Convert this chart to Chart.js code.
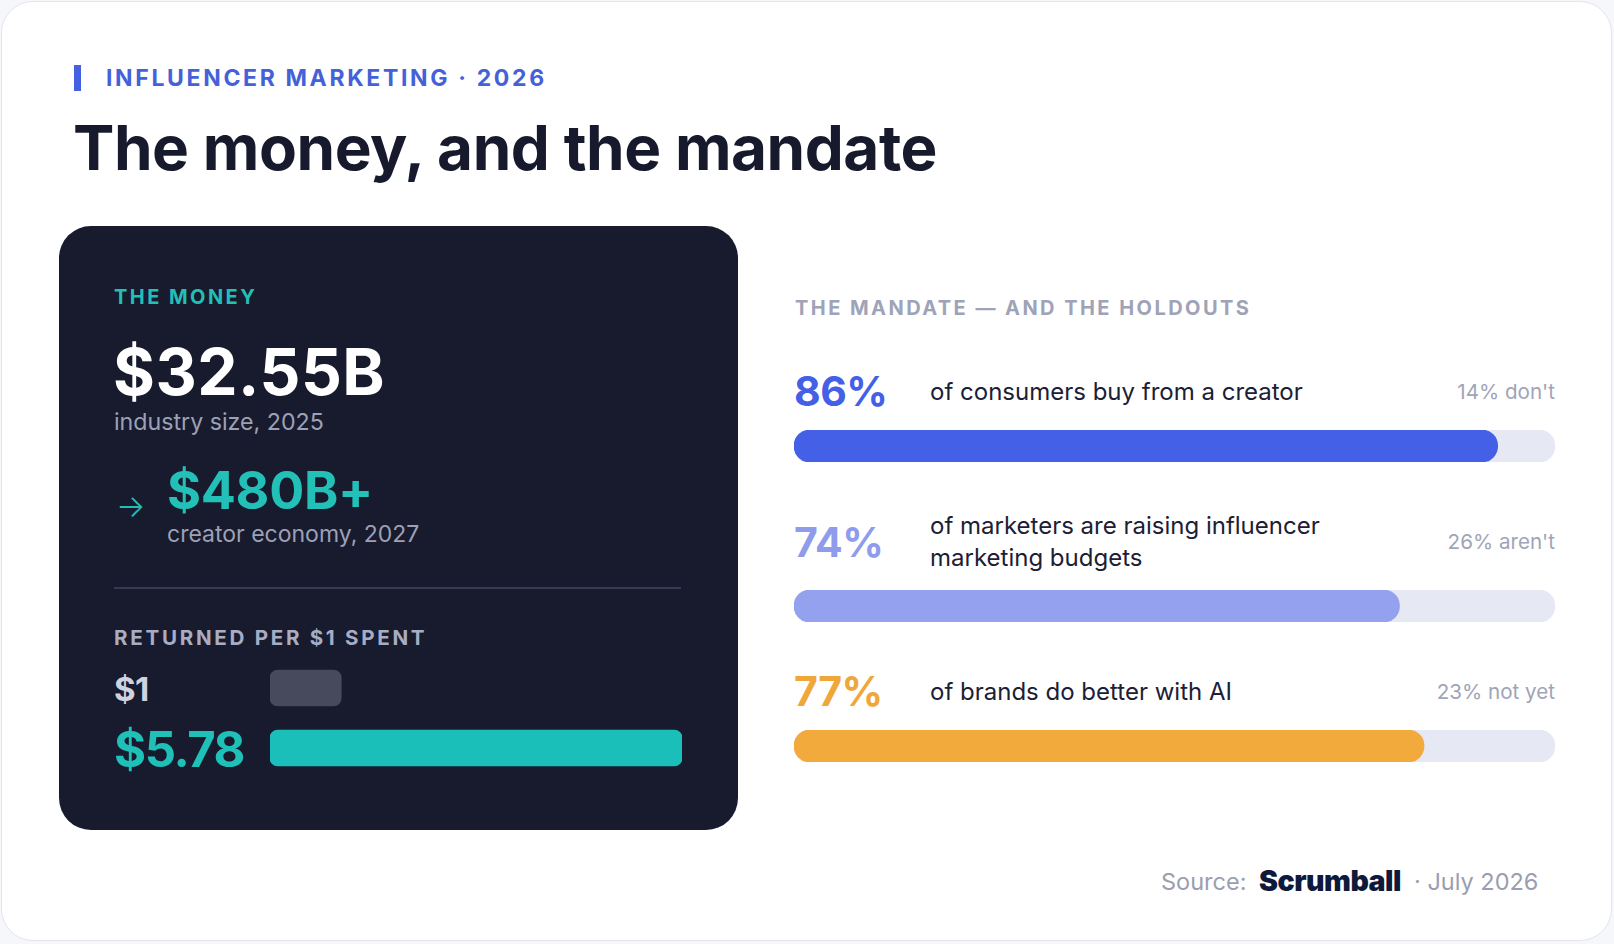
<!DOCTYPE html>
<html>
<head>
<meta charset="utf-8">
<script src="https://cdn.jsdelivr.net/npm/chart.js@4.4.1/dist/chart.umd.min.js"></script>
<style>
  html, body { margin:0; padding:0; }
  body { width:1614px; height:944px; background:#f6f7fa; position:relative; overflow:hidden; font-family: Inter, "Noto Sans", sans-serif; }
  .card { position:absolute; left:1px; top:1px; width:1609px; height:938px; background:#fff; border:1.5px solid #e3e5ee; border-radius:32px; }
  .t { position:absolute; white-space:nowrap; line-height:1; }
  .panel { position:absolute; left:59px; top:226px; width:679px; height:604px; background:#171b2d; border-radius:32px; }
  .cv { position:absolute; }
</style>
</head>
<body>
<div class="card"></div>
<div style="position:absolute;left:74px;top:65px;width:7px;height:26px;background:#4561e3;"></div>
<div class="t" style="left:106px;top:66.7px;font-size:23px;font-weight:700;letter-spacing:2.65px;color:#4561d9;">INFLUENCER MARKETING · 2026</div>
<div class="t" style="left:73px;top:117px;font-size:62px;font-weight:700;letter-spacing:-0.45px;color:#161a2c;">The money, and the mandate</div>

<div class="panel"></div>
<div class="t" style="left:114px;top:286.7px;font-size:20px;font-weight:700;letter-spacing:2.45px;color:#22bfb6;">THE MONEY</div>
<div class="t" id="bigMoney" style="left:113px;top:340px;font-size:64px;font-weight:700;letter-spacing:0.5px;color:#ffffff;"></div>
<div class="t" id="bigMoneySub" style="left:114px;top:411px;font-size:23.2px;font-weight:400;color:#9ca1b7;"></div>
<div class="t" style="left:116px;top:490px;font-size:31px;font-weight:300;color:#22bfb6;">→</div>
<div class="t" id="creatorMoney" style="left:167px;top:465px;font-size:52px;font-weight:700;letter-spacing:-0.3px;color:#22c0b7;"></div>
<div class="t" id="creatorMoneySub" style="left:167px;top:522.5px;font-size:23px;font-weight:400;color:#9ca1b7;"></div>
<div style="position:absolute;left:114px;top:587px;width:567px;height:1.5px;background:#353a50;"></div>
<div class="t" style="left:114px;top:628.2px;font-size:20.6px;font-weight:700;letter-spacing:2.7px;color:#a8adc4;">RETURNED PER $1 SPENT</div>
<div class="t" id="moneyLbl0" style="left:114px;top:673.2px;font-size:33px;font-weight:700;letter-spacing:-0.5px;color:#cfd2e0;"></div>
<div class="t" id="moneyLbl1" style="left:114px;top:724.5px;font-size:49px;font-weight:700;letter-spacing:-1.4px;color:#1fc0b8;"></div>
<canvas id="moneyChart" class="cv" style="left:270px;top:658px;width:412px;height:120px;" width="412" height="120"></canvas>

<div class="t" style="left:795px;top:298.4px;font-size:20px;font-weight:700;letter-spacing:2.45px;color:#9ea3b8;">THE MANDATE — AND THE HOLDOUTS</div>
<div id="rows"></div>

<div class="t" style="left:1161px;top:869.6px;font-size:23.5px;font-weight:400;color:#9a9eb0;">Source:</div>
<div class="t" style="left:1259px;top:867px;font-size:28.5px;font-weight:900;letter-spacing:-0.5px;color:#0e1a3b;">Scrumball</div>
<div class="t" style="left:1414px;top:869.6px;font-size:23.5px;font-weight:400;color:#9a9eb0;">· July 2026</div>

<script>
// ---- data ----
const headlineValues = ['$32.55B', '$480B+'];
const headlineLabels = ['industry size, 2025', 'creator economy, 2027'];
const moneyLabels = ['$1', '$5.78'];
const moneyValues = [1, 5.78];
const mandatePct = [86, 74, 77];
const mandateText = [
  ['of consumers buy from a creator'],
  ['of marketers are raising influencer', 'marketing budgets'],
  ['of brands do better with AI']
];
const holdoutText = ["14% don't", "26% aren't", "23% not yet"];
const mandateScaleMax = 93;

// ---- styles / layout (not data) ----
const mandateColors = ['#4360e6', '#93a1ee', '#f2aa3c'];
const pctColors = ['#4360e6', '#8f9cec', '#f0a73a'];
const trackColor = '#e6e8f3';
const rowLayout = [
  { pctBase: 406.7, textBase: [401], holdBase: 400, barTop: 430 },
  { pctBase: 557, textBase: [535, 567], holdBase: 550, barTop: 590 },
  { pctBase: 706.7, textBase: [701], holdBase: 700, barTop: 730 }
];
const asc = 0.864;

document.getElementById('bigMoney').textContent = headlineValues[0];
document.getElementById('bigMoneySub').textContent = headlineLabels[0];
document.getElementById('creatorMoney').textContent = headlineValues[1];
document.getElementById('creatorMoneySub').textContent = headlineLabels[1];
document.getElementById('moneyLbl0').textContent = moneyLabels[0];
document.getElementById('moneyLbl1').textContent = moneyLabels[1];

const baseOpts = (max) => ({
  indexAxis: 'y',
  responsive: false,
  maintainAspectRatio: false,
  animation: false,
  layout: { padding: 0 },
  plugins: { legend: { display: false }, tooltip: { enabled: false } },
  scales: {
    x: { display: false, min: 0, max: max, grid: { display: false } },
    y: { display: false, grid: { display: false } }
  }
});

new Chart(document.getElementById('moneyChart'), {
  type: 'bar',
  data: {
    labels: moneyLabels,
    datasets: [{
      data: moneyValues,
      backgroundColor: ['#474a5c', '#1bbfb9'],
      barThickness: 36,
      borderRadius: 8,
      borderSkipped: false
    }]
  },
  options: baseOpts(Math.max(...moneyValues))
});

const rows = document.getElementById('rows');
mandatePct.forEach((v, i) => {
  const L = rowLayout[i];
  const p = document.createElement('div');
  p.className = 't';
  p.style.cssText = `left:794px;top:${L.pctBase - asc*41}px;font-size:41px;font-weight:700;letter-spacing:-0.5px;color:${pctColors[i]};`;
  p.textContent = v + '%';
  rows.appendChild(p);
  mandateText[i].forEach((line, j) => {
    const d = document.createElement('div');
    d.className = 't';
    d.style.cssText = `left:930px;top:${L.textBase[j] - asc*24}px;font-size:24px;font-weight:400;color:#1c2034;`;
    d.textContent = line;
    rows.appendChild(d);
  });
  const h = document.createElement('div');
  h.className = 't';
  h.style.cssText = `right:${1614-1555}px;top:${L.holdBase - asc*20.6}px;font-size:20.6px;font-weight:400;color:#a0a4b7;`;
  h.textContent = holdoutText[i];
  rows.appendChild(h);
  const c = document.createElement('canvas');
  c.className = 'cv';
  c.width = 761; c.height = 32;
  c.style.cssText = `left:794px;top:${L.barTop}px;width:761px;height:32px;`;
  rows.appendChild(c);
  new Chart(c, {
    type: 'bar',
    data: {
      labels: [mandateText[i].join(' ')],
      datasets: [
        { data: [v], backgroundColor: mandateColors[i], barThickness: 32, borderRadius: 16, borderSkipped: false, grouped: false, order: 0 },
        { data: [mandateScaleMax], backgroundColor: trackColor, barThickness: 32, borderRadius: 16, borderSkipped: false, grouped: false, order: 1 }
      ]
    },
    options: baseOpts(mandateScaleMax)
  });
});
</script>
</body>
</html>
